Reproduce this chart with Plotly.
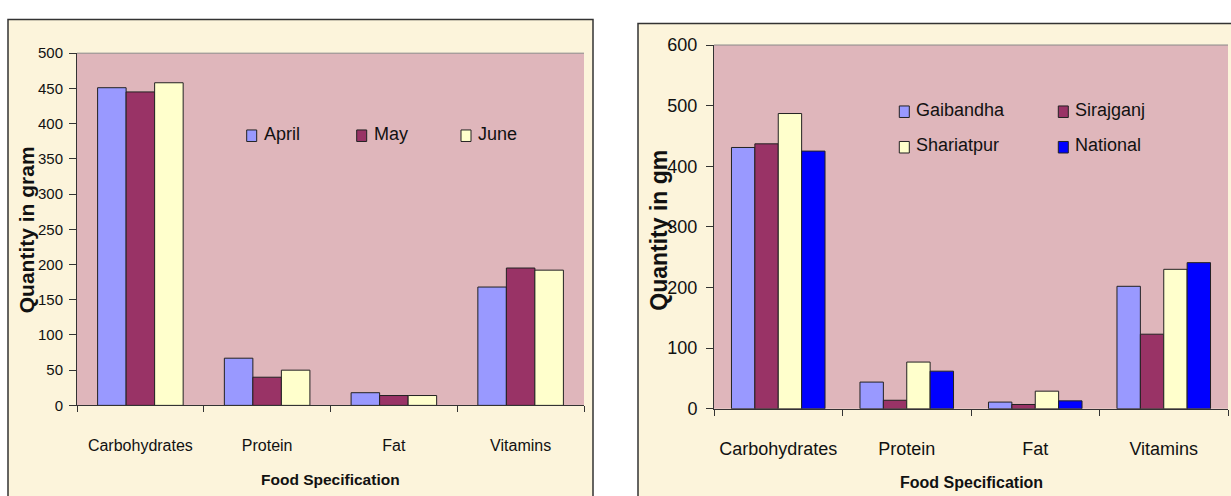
import plotly.graph_objects as go

# ---- data -------------------------------------------------------------
foods = ["Carbohydrates", "Protein", "Fat", "Vitamins"]

# monthly intake (left chart)
april = [451, 67, 18, 168]
may = [445, 40, 14, 195]
june = [458, 50, 14, 192]

# district vs national intake (right chart)
gaibandha = [431, 44, 11, 202]
sirajganj = [437, 14, 7, 123]
shariatpur = [487, 77, 29, 230]
national = [425, 62, 13, 241]

left_ticks = list(range(0, 501, 50))
right_ticks = list(range(0, 601, 100))

# ---- styling ----------------------------------------------------------
W, H = 1231, 496
FONT = "Liberation Sans, Arial, sans-serif"
PINK = "#dfb6bb"
CREAM = "#fcf4db"
EDGE = "#222222"

C_APR, C_MAY, C_JUN, C_NAT = "#9999ff", "#993366", "#ffffcc", "#0000ff"

# plot-area pixel boxes (left, top, right, bottom)
L_BOX = (77, 45, 584, 412)
R_BOX = (714, 36.5, 1228, 415.5)


def px(x):
    return x / W


def py(y):
    return 1 - y / H


fig = go.Figure()

# left chart: three bars per category
left_w = 0.225
for i, (name, vals, col) in enumerate(
    [("April", april, C_APR), ("May", may, C_MAY), ("June", june, C_JUN)]
):
    fig.add_trace(go.Bar(
        x=foods, y=vals, name=name, xaxis="x", yaxis="y",
        width=left_w, offset=-1.5 * left_w + i * left_w,
        marker=dict(color=col, line=dict(color=EDGE, width=1)),
        showlegend=False,
    ))

# right chart: four bars per category
right_w = 0.182
for i, (name, vals, col) in enumerate(
    [("Gaibandha", gaibandha, C_APR), ("Sirajganj", sirajganj, C_MAY),
     ("Shariatpur", shariatpur, C_JUN), ("National", national, C_NAT)]
):
    fig.add_trace(go.Bar(
        x=foods, y=vals, name=name, xaxis="x2", yaxis="y2",
        width=right_w, offset=-2 * right_w + i * right_w,
        marker=dict(color=col, line=dict(color=EDGE, width=1)),
        showlegend=False,
    ))

xcommon = dict(
    type="category", tickson="boundaries", ticks="outside", ticklen=6,
    tickcolor="#333", showline=True, linecolor="#333", linewidth=1,
    showgrid=False, zeroline=False, fixedrange=True,
)
ycommon = dict(
    ticks="outside", ticklen=7, tickcolor="#333", showline=True,
    linecolor="#333", linewidth=1, showgrid=False, zeroline=False,
)

fig.update_layout(
    width=W, height=H,
    margin=dict(l=0, r=0, t=0, b=0),
    paper_bgcolor="white", plot_bgcolor="rgba(0,0,0,0)",
    barmode="group", showlegend=False,
    xaxis=dict(domain=[px(L_BOX[0]), px(L_BOX[2])], anchor="y",
               tickfont=dict(family=FONT, size=16, color="#111"),
               ticklabelstandoff=25, **xcommon),
    yaxis=dict(domain=[py(L_BOX[3]), py(L_BOX[1])], anchor="x", range=[0, 500],
               tickvals=left_ticks,
               tickfont=dict(family=FONT, size=15, color="#111"),
               ticklabelstandoff=3, **ycommon),
    xaxis2=dict(domain=[px(R_BOX[0]), px(R_BOX[2])], anchor="y2",
                tickfont=dict(family=FONT, size=18, color="#111"),
                ticklabelstandoff=24, **xcommon),
    yaxis2=dict(domain=[py(R_BOX[3]), py(R_BOX[1])], anchor="x2", range=[0, 600],
                tickvals=right_ticks,
                tickfont=dict(family=FONT, size=18, color="#111"),
                ticklabelstandoff=5, **ycommon),
)

shapes = [
    # chart frames
    dict(type="rect", xref="paper", yref="paper", layer="below",
         x0=px(8), x1=px(593), y0=-0.2, y1=py(10),
         fillcolor=CREAM, line=dict(color="#333", width=1.5)),
    dict(type="rect", xref="paper", yref="paper", layer="below",
         x0=px(638), x1=1.2, y0=-0.2, y1=py(14),
         fillcolor=CREAM, line=dict(color="#333", width=1.5)),
]
# plot-area fills with a grey top edge
for box in (L_BOX, R_BOX):
    shapes.append(dict(type="rect", xref="paper", yref="paper", layer="below",
                       x0=px(box[0]), x1=px(box[2]), y0=py(box[3]), y1=py(box[1]),
                       fillcolor=PINK, line=dict(width=0)))
    shapes.append(dict(type="line", xref="paper", yref="paper",
                       x0=px(box[0]), x1=px(box[2]), y0=py(box[1]), y1=py(box[1]),
                       line=dict(color="#8a8a8a", width=1)))

annotations = [
    dict(text="<b>Quantity in gram</b>", x=px(26.5), y=py(229), xref="paper",
         yref="paper", textangle=-90, showarrow=False,
         xanchor="center", yanchor="middle",
         font=dict(family=FONT, size=21, color="#111")),
    dict(text="<b>Quantity in gm</b>", x=px(659), y=py(230), xref="paper",
         yref="paper", textangle=-90, showarrow=False,
         xanchor="center", yanchor="middle",
         font=dict(family=FONT, size=23, color="#111")),
    dict(text="<b>Food Specification</b>", x=px(330.5), y=py(489), xref="paper",
         yref="paper", showarrow=False, xanchor="center", yanchor="middle",
         font=dict(family=FONT, size=15.5, color="#111")),
    dict(text="<b>Food Specification</b>", x=px(971), y=py(492), xref="paper",
         yref="paper", showarrow=False, xanchor="center", yanchor="middle",
         font=dict(family=FONT, size=16, color="#111")),
]

# legends drawn as swatch + label
legend_items = [
    ("April", C_APR, 246.7, 130, 18),
    ("May", C_MAY, 356.7, 130, 18),
    ("June", C_JUN, 461, 130, 18),
    ("Gaibandha", C_APR, 899.3, 105, 18),
    ("Sirajganj", C_MAY, 1058.3, 105, 18),
    ("Shariatpur", C_JUN, 899.3, 142, 18),
    ("National", C_NAT, 1058.3, 142, 18),
]
for label, col, x0, yc, fs in legend_items:
    shapes.append(dict(type="rect", xref="paper", yref="paper",
                       x0=px(x0), x1=px(x0 + 10), y0=py(yc + 7), y1=py(yc - 5),
                       fillcolor=col, line=dict(color=EDGE, width=1)))
    annotations.append(dict(text=label, x=px(x0 + 15), y=py(yc - 1), xref="paper",
                            yref="paper", xanchor="left", yanchor="middle",
                            showarrow=False,
                            font=dict(family=FONT, size=fs, color="#111")))

fig.update_layout(shapes=shapes, annotations=annotations)

fig.write_html("out.html")
